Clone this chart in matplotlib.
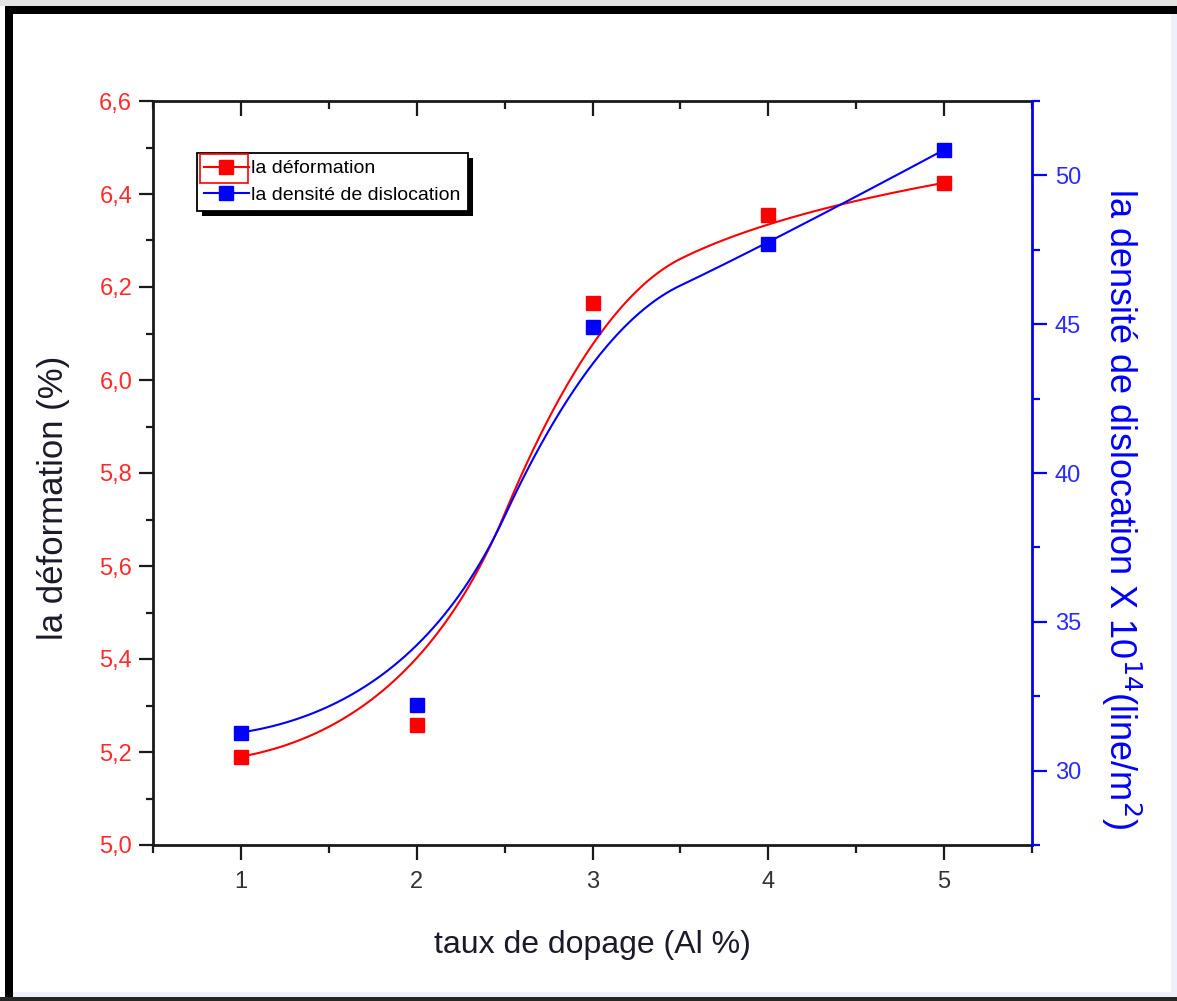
import numpy as np
import matplotlib
matplotlib.use('Agg')
import matplotlib.pyplot as plt
from matplotlib.ticker import MultipleLocator, FuncFormatter, FixedLocator
from matplotlib.lines import Line2D
from matplotlib.patches import Rectangle

plt.rcParams['font.family'] = ['Liberation Sans', 'DejaVu Sans']

# ---- data ----
doping = [1, 2, 3, 4, 5]
deformation = [5.19, 5.258, 6.166, 6.355, 6.424]
dislocation = [31.28, 32.19, 44.9, 47.7, 50.86]

x_ticks = [1, 2, 3, 4, 5]
left_ticks = [5.0, 5.2, 5.4, 5.6, 5.8, 6.0, 6.2, 6.4, 6.6]
right_ticks = [30, 35, 40, 45, 50]

legend_labels = ['la déformation', 'la densité de dislocation']
xlabel = 'taux de dopage (Al %)'
ylabel_left = 'la déformation (%)'
ylabel_right = r'la densité de dislocation X 10$^{14}$(line/m$^{2}$)'

RED = '#ff0000'
BLUE = '#0000ff'
TICK_RED = '#ff2a2a'
TICK_BLUE = '#2a2aff'


def bspline_curve(xs, ys, k=2, n=400):
    """Clamped B-spline using the data points as control points."""
    P = np.column_stack([xs, ys]).astype(float)
    m = len(P)
    inner = list(range(1, m - k))
    t = np.array([0] * (k + 1) + inner + [m - k] * (k + 1), float)
    u = np.linspace(0, m - k, n)
    u[-1] -= 1e-9
    N = np.zeros((n, len(t) - 1))
    for i in range(len(t) - 1):
        N[:, i] = ((u >= t[i]) & (u < t[i + 1])).astype(float)
    for d in range(1, k + 1):
        Nn = np.zeros((n, len(t) - 1 - d))
        for i in range(len(t) - 1 - d):
            a = 0.0
            b = 0.0
            den1 = t[i + d] - t[i]
            if den1 > 0:
                a = (u - t[i]) / den1 * N[:, i]
            den2 = t[i + d + 1] - t[i + 1]
            if den2 > 0:
                b = (t[i + d + 1] - u) / den2 * N[:, i + 1]
            Nn[:, i] = a + b
        N = Nn
    C = N @ P
    return C[:, 0], C[:, 1]


W, H = 1177, 1001
fig = plt.figure(figsize=(W / 100, H / 100), dpi=100)
fig.patch.set_facecolor('white')


def fx(px):
    return px / W


def fy(py):
    return 1 - py / H


# ---- outer frame (screenshot border) ----
def prect(x, y, w, h, color):
    fig.add_artist(Rectangle((fx(x), fy(y + h)), w / W, h / H,
                             transform=fig.transFigure, facecolor=color,
                             edgecolor='none', zorder=-5))


prect(0, 0, W, 6, '#e4e4e4')
prect(1171, 14, 6, 983, '#edf1fa')
prect(13, 992, 1164, 5, '#edf1fa')
prect(0, 997, W, 4, '#262626')
prect(5, 6, W - 5, 8, '#000000')
prect(5, 6, 8, 991, '#000000')

ax = fig.add_axes([fx(153), fy(845), (1032 - 153) / W, (845 - 101) / H])
ax.set_facecolor('none')
ax2 = ax.twinx()

# ---- curves ----
cx, cy = bspline_curve(doping, deformation)
ax.plot(cx, cy, color=RED, lw=1.5, zorder=2)
ax.plot(doping, deformation, ls='none', marker='s', ms=9.5, color=RED,
        mec=RED, zorder=3)

bx, by = bspline_curve(doping, dislocation)
ax2.plot(bx, by, color=BLUE, lw=1.5, zorder=2)
ax2.plot(doping, dislocation, ls='none', marker='s', ms=9.5, color=BLUE,
         mec=BLUE, zorder=3)

# ---- axes limits / ticks ----
ax.set_xlim(0.5, 5.5)
ax.set_ylim(5.0, 6.6)
ax2.set_ylim(27.5, 52.5)

ax.xaxis.set_major_locator(FixedLocator(x_ticks))
ax.xaxis.set_minor_locator(MultipleLocator(0.5))
ax.yaxis.set_major_locator(FixedLocator(left_ticks))
ax.yaxis.set_minor_locator(MultipleLocator(0.1))
ax.yaxis.set_major_formatter(FuncFormatter(lambda v, p: f'{v:.1f}'.replace('.', ',')))
ax2.yaxis.set_major_locator(FixedLocator(right_ticks))
ax2.yaxis.set_minor_locator(MultipleLocator(2.5))

for sp in ['left', 'bottom', 'top']:
    ax.spines[sp].set_color('#1a1a1a')
    ax.spines[sp].set_linewidth(2.0)
ax.spines['right'].set_visible(False)
for sp in ['left', 'bottom', 'top']:
    ax2.spines[sp].set_visible(False)
ax2.spines['right'].set_color(BLUE)
ax2.spines['right'].set_linewidth(2.0)

ax.tick_params(axis='x', which='major', direction='out', length=11, width=1.6,
               color='#1a1a1a', labelsize=17, labelcolor='#333333', pad=8,
               top=False)
ax.tick_params(axis='x', which='minor', direction='out', length=6, width=1.6,
               color='#1a1a1a', top=False)
ax.tick_params(axis='y', which='major', direction='out', length=10, width=1.6,
               color='#1a1a1a', labelsize=17, labelcolor=TICK_RED, pad=5,
               right=False)
ax.tick_params(axis='y', which='minor', direction='out', length=5, width=1.6,
               color='#1a1a1a', right=False)

ax2.tick_params(axis='y', which='major', direction='out', length=10.5, width=1.6,
                color=BLUE, labelsize=17, labelcolor=TICK_BLUE, pad=6)
ax2.tick_params(axis='y', which='minor', direction='out', length=5.5, width=1.6,
                color=BLUE)

sec = ax.secondary_xaxis('top')
sec.xaxis.set_major_locator(FixedLocator(x_ticks))
sec.xaxis.set_minor_locator(MultipleLocator(0.5))
sec.tick_params(axis='x', which='major', direction='in', length=11, width=1.6,
                color='#1a1a1a', labeltop=False)
sec.tick_params(axis='x', which='minor', direction='in', length=6, width=1.6,
                color='#1a1a1a')
sec.spines['top'].set_visible(False)

# ---- axis labels ----
fig.text(fx(592), fy(945), xlabel, ha='center', va='center', fontsize=23,
         color='#1a1a2a')
fig.text(fx(53), fy(498), ylabel_left, ha='center', va='center', rotation=90,
         fontsize=25, color='#1a1a2a')
fig.text(fx(1121), fy(509), ylabel_right, ha='center', va='center',
         rotation=270, fontsize=26, color=BLUE)

# ---- legend ----
h1 = Line2D([], [], color=RED, lw=1.5, marker='s', ms=9.5)
h2 = Line2D([], [], color=BLUE, lw=1.5, marker='s', ms=9.5)
leg = ax2.legend([h1, h2], legend_labels, loc='upper left',
                 bbox_to_anchor=(fx(197), fy(153)), bbox_transform=fig.transFigure,
                 frameon=True, fancybox=False, edgecolor='black', framealpha=1,
                 fontsize=14, handlelength=2.3, handletextpad=0.15,
                 borderpad=0.35, labelspacing=0.45, borderaxespad=0)
leg.get_frame().set_linewidth(1.3)
leg.set_zorder(10)

fig.canvas.draw()
bb = leg.get_window_extent()
inv = fig.transFigure.inverted()
(x0, y0) = inv.transform((bb.x0 + 5, bb.y0 - 5))
(x1, y1) = inv.transform((bb.x1 + 5, bb.y1 - 5))
fig.add_artist(Rectangle((x0, y0), x1 - x0, y1 - y0, transform=fig.transFigure,
                         facecolor='black', edgecolor='none', zorder=-1))
(rx0, ry0) = inv.transform((bb.x0 + 3, bb.y1 - 30))
(rx1, ry1) = inv.transform((bb.x0 + 51, bb.y1 - 1))
fig.add_artist(Rectangle((rx0, ry0), rx1 - rx0, ry1 - ry0, transform=fig.transFigure,
                         facecolor='none', edgecolor=RED, lw=1.2, zorder=20))

fig.savefig('out.png', dpi=100)
